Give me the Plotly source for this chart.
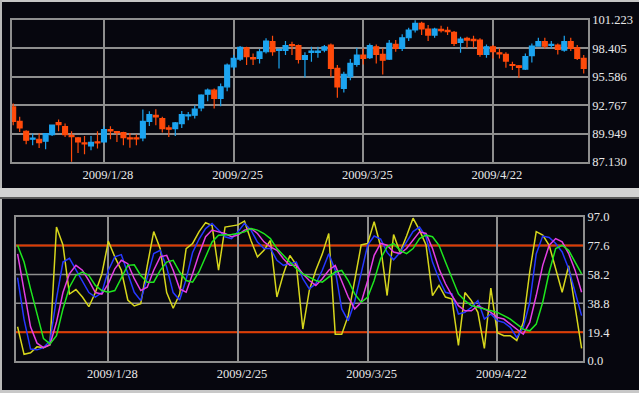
import plotly.graph_objects as go
import pandas as pd

# ---------------- data ----------------
dates = [f"{d.year}/{d.month}/{d.day}" for d in pd.bdate_range("2009-01-08", periods=89)]

opens = [92.60, 91.17, 90.18, 89.40, 89.39, 89.19, 89.85, 91.04, 90.64, 89.78,
         89.52, 89.02, 88.72, 89.12, 89.12, 90.35, 90.15, 90.05, 89.52, 89.52,
         89.52, 91.17, 91.77, 91.44, 90.51, 90.45, 90.94, 91.70, 91.77, 92.50,
         93.86, 94.26, 93.43, 94.59, 96.58, 97.34, 98.47, 97.48, 97.41, 98.07,
         99.07, 98.20, 98.20, 98.77, 98.67, 97.32, 98.00, 98.01, 98.24, 98.74,
         96.42, 94.43, 95.59, 96.81, 97.74, 97.48, 98.57, 97.81, 97.34, 98.80,
         98.40, 99.46, 100.23, 100.89, 100.33, 99.73, 100.30, 100.19, 99.99, 99.00,
         99.40, 99.30, 99.23, 97.81, 98.57, 97.97, 97.81, 96.80, 96.68, 96.35,
         97.68, 98.64, 99.07, 98.70, 98.74, 98.24, 99.07, 98.47, 97.41]
highs = [92.93, 91.61, 90.28, 89.95, 89.95, 89.95, 90.84, 91.34, 90.94, 90.18,
         89.62, 89.72, 89.72, 90.18, 90.68, 90.68, 90.18, 90.12, 90.02, 89.85,
         92.34, 92.17, 92.37, 91.61, 90.78, 91.11, 92.20, 92.10, 92.77, 93.86,
         94.42, 94.42, 94.92, 96.91, 97.74, 98.64, 98.57, 97.91, 98.34, 99.40,
         99.66, 98.40, 99.13, 99.07, 98.80, 98.01, 98.57, 98.57, 98.74, 98.90,
         96.75, 96.08, 97.34, 98.47, 98.40, 98.90, 98.80, 98.40, 99.23, 99.23,
         99.80, 100.46, 101.20, 101.06, 100.73, 100.46, 100.66, 100.56, 100.13, 99.56,
         99.56, 99.66, 99.40, 98.80, 98.74, 98.40, 98.01, 97.08, 96.75, 97.91,
         98.90, 99.46, 99.46, 99.13, 98.90, 99.66, 99.46, 98.74, 97.74]
lows = [90.78, 90.11, 88.89, 88.79, 88.52, 88.39, 89.72, 90.18, 89.62, 87.15,
        88.03, 87.89, 88.29, 88.46, 89.05, 89.39, 89.12, 88.79, 88.55, 88.79,
        89.19, 90.71, 90.78, 90.05, 89.62, 89.72, 90.51, 91.27, 91.44, 92.17,
        93.17, 92.44, 92.67, 94.16, 96.32, 97.15, 96.75, 96.75, 96.91, 97.91,
        97.67, 96.41, 97.74, 97.74, 96.91, 95.52, 97.08, 97.48, 98.01, 95.59,
        93.50, 94.03, 95.25, 96.58, 96.81, 97.35, 96.91, 95.82, 97.25, 98.07,
        98.14, 99.13, 99.99, 99.73, 99.13, 99.46, 99.99, 99.73, 98.64, 97.97,
        98.47, 98.47, 97.58, 97.48, 97.41, 97.41, 96.48, 96.25, 95.49, 96.25,
        97.01, 98.57, 98.40, 98.40, 97.81, 98.07, 98.14, 97.25, 95.92]
closes = [91.17, 90.51, 89.29, 89.50, 89.05, 89.95, 90.78, 90.84, 89.85, 89.65,
          89.12, 88.92, 89.09, 89.02, 90.35, 90.22, 90.05, 89.55, 89.42, 89.42,
          91.17, 91.84, 91.61, 90.45, 90.38, 91.01, 91.84, 91.80, 92.37, 93.76,
          94.26, 93.43, 94.59, 96.75, 97.41, 98.50, 97.58, 97.35, 98.07, 99.13,
          98.07, 98.30, 98.67, 98.67, 97.31, 97.68, 98.14, 98.14, 98.57, 96.42,
          94.59, 95.82, 96.91, 97.74, 97.41, 98.67, 97.81, 97.24, 98.90, 98.40,
          99.46, 100.23, 100.89, 100.33, 99.73, 100.33, 100.16, 100.06, 98.90, 99.33,
          99.23, 99.17, 97.81, 98.57, 98.07, 97.87, 97.15, 96.72, 96.52, 97.58,
          98.64, 99.07, 98.64, 98.80, 98.30, 99.07, 98.40, 97.41, 96.42]

# oscillator lines (first 88 sessions are drawn)
osc_yellow = [23, 4.5, 5.5, 9.5, 9, 11, 90, 78, 45, 48,
              43, 36.5, 46, 58.5, 80.5, 70, 61, 41, 37, 38.5,
              64, 87, 75.5, 46, 35.5, 45, 75.5, 79, 87, 93,
              91, 61, 90, 91, 91.5, 94, 81, 70, 74.5, 81,
              43, 58.5, 71, 64.5, 21.5, 47.5, 61, 72, 85.7, 18,
              18, 30.5, 53, 78, 79, 93.6, 77, 44, 85, 73,
              84, 96, 88, 78, 44, 50.8, 43, 41.7, 10.5, 46,
              40.6, 32.7, 8.5, 49, 19, 17, 17, 13.8, 26, 60,
              87, 84.6, 77.8, 62, 46.2, 64, 37.2, 8.5]
osc_blue = [56, 28, 8, 7.5, 9, 13.5, 42, 66.5, 69, 61,
            53, 46, 43, 46, 61, 70, 71.5, 58.6, 46.2, 40.6,
            56.4, 72.2, 74.4, 63, 46, 41, 55, 73, 82, 89,
            92.5, 88, 83.5, 82.3, 86.8, 92.5, 88, 80, 75.6, 75.6,
            67.7, 64.3, 65.4, 66.5, 55.3, 48.5, 51.9, 61, 72, 61,
            35, 27, 40, 60, 78, 84, 82, 73, 68, 73,
            80, 87, 90, 83.5, 66.5, 55.3, 46.2, 45.1, 31.6, 32.7,
            36.1, 40.6, 28.2, 31.6, 27.1, 25.9, 22.6, 15.8, 22.6, 39.5,
            72, 84, 83, 79, 73.3, 62, 46.2, 30.5]
osc_magenta = [72, 47, 23, 12, 9, 11, 26, 46, 58.6, 64.3,
               61, 54, 46, 45, 52, 62, 67.7, 65.4, 55.3, 47.4,
               49.6, 61, 70, 71, 61, 48.5, 46.2, 58.6, 72, 83.5,
               88, 86.8, 85.7, 83.5, 84.6, 88, 89.1, 85.7, 80.1, 76.7,
               74.4, 68.8, 64.3, 64.3, 58.6, 54.1, 50.8, 55.3, 61, 64.3,
               54, 43, 35, 39.5, 54, 71, 79, 77.8, 73.3, 72.2,
               75.6, 81.2, 86.8, 85.7, 75.6, 62, 51.9, 44, 37.2, 33.8,
               33.8, 37.2, 35, 32.7, 29.3, 28.2, 24.8, 21.4, 18, 25.9,
               44, 64.3, 77.8, 82.3, 80.1, 72.2, 60.9, 46.2]
osc_green = [77.8, 66.5, 48.5, 32.7, 15, 11.5, 17, 35, 49.6, 57.5,
             59.8, 57.5, 50.8, 47.4, 46.2, 47.4, 56.4, 64.3, 64.7, 57.5,
             53, 53, 60.9, 66.5, 67.7, 59.8, 54.1, 53, 60, 70,
             80, 84.6, 84.6, 85, 85.7, 86.8, 89, 88, 85.7, 82.3,
             75.6, 71, 66.5, 62, 58.6, 56.4, 54.1, 53, 56.4, 59.8,
             60.9, 54.1, 45.1, 39.5, 42.9, 54.1, 68.8, 76.7, 79, 74.4,
             72.2, 75.6, 82.3, 84.6, 83.5, 77.8, 66.5, 55.3, 45.1, 40.6,
             37.2, 36.1, 35, 33.8, 32.7, 30.5, 28.2, 24.8, 21.4, 20.3,
             24.8, 39.5, 59.8, 75.6, 77.8, 74.4, 66.5, 58.6]

price_ticks = [87.130, 89.949, 92.767, 95.586, 98.405, 101.223]
osc_ticks = [0.0, 19.4, 38.8, 58.2, 77.6, 97.0]
date_ticks = ["2009/1/28", "2009/2/25", "2009/3/25", "2009/4/22"]
upper_band, lower_band = 77.6, 19.4

# ---------------- styling ----------------
W, H = 639, 393
BG = "#06060e"
GRID = "#8e8e8e"
TXT = "#e8e8e8"
FONT = dict(family="Liberation Serif", size=12.5, color=TXT)
UP, DOWN = "#1ca4f0", "#ff4a0a"


def fx(px):
    return px / W


def fy(py):
    return 1 - py / H


fig = go.Figure()

fig.add_trace(go.Candlestick(
    x=dates, open=opens, high=highs, low=lows, close=closes,
    increasing=dict(line=dict(color=UP, width=1.2), fillcolor=UP),
    decreasing=dict(line=dict(color=DOWN, width=1.2), fillcolor=DOWN),
    whiskerwidth=0, xaxis="x", yaxis="y", showlegend=False,
))

n_osc = len(osc_yellow)
for vals, col in [(osc_yellow, "#d6d61c"), (osc_blue, "#2638ff"),
                  (osc_magenta, "#e43ee4"), (osc_green, "#1ee61e")]:
    fig.add_trace(go.Scatter(x=dates[:n_osc], y=vals, mode="lines",
                             line=dict(color=col, width=1.5),
                             xaxis="x2", yaxis="y2", showlegend=False))

axis_common = dict(showline=True, linecolor=GRID, linewidth=1.5, mirror=True,
                   zeroline=False, tickfont=FONT, ticks="", ticklen=0, automargin=False)

fig.update_layout(
    width=W, height=H, margin=dict(l=0, r=0, t=0, b=0, pad=0, autoexpand=False),
    paper_bgcolor=BG, plot_bgcolor=BG,
    boxgap=0.0, boxgroupgap=0.25,
    xaxis=dict(domain=[fx(12), fx(588)], type="category", range=[-0.185, 88.66],
               tickvals=date_ticks, ticktext=date_ticks, rangeslider=dict(visible=False),
               anchor="y", ticklabelshift=4, ticklabelstandoff=0,
               showgrid=True, gridcolor=GRID, gridwidth=1.5, **axis_common),
    yaxis=dict(domain=[fy(162), fy(20)], range=[price_ticks[0], price_ticks[-1]],
               tickvals=price_ticks, ticktext=[f"{v:.3f}" for v in price_ticks],
               side="right", anchor="x", ticklabelstandoff=0,
               showgrid=True, gridcolor=GRID, gridwidth=1.5, **axis_common),
    xaxis2=dict(domain=[fx(15.5), fx(583.3)], type="category", range=[-0.32, 87.26],
                tickvals=date_ticks, ticktext=date_ticks, anchor="y2",
                ticklabelshift=4, ticklabelstandoff=0,
                showgrid=True, gridcolor=GRID, gridwidth=1.5, **axis_common),
    yaxis2=dict(domain=[fy(361), fy(216.7)], range=[osc_ticks[0], osc_ticks[-1]],
                tickvals=osc_ticks, ticktext=[f"{v:.1f}" for v in osc_ticks],
                side="right", anchor="x2", ticklabelstandoff=0,
                showgrid=False, **axis_common),
)

shapes = []
# oscillator horizontal grid, then the red band lines on top of it
for lvl in osc_ticks[1:-1]:
    shapes.append(dict(type="line", xref="x2 domain", yref="y2", x0=0, x1=1, y0=lvl, y1=lvl,
                       line=dict(color=GRID, width=1.5), layer="below"))
for lvl in (upper_band, lower_band):
    shapes.append(dict(type="line", xref="x2 domain", yref="y2", x0=0, x1=1, y0=lvl, y1=lvl,
                       line=dict(color="#e03a00", width=2), layer="below"))
# window frame pieces
frame = [
    (0, 1, fy(2), 1, "#c4c4c4"),
    (0, fx(2), 0, 1, "#b8b8b8"),
    (0, 1, fy(197), fy(188), "#d2d2d2"),
    (0, 1, fy(199), fy(197), "#5a5a5a"),
    (0, 1, 0, fy(390), "#c8c8c8"),
]
for x0, x1, y0, y1, c in frame:
    shapes.append(dict(type="rect", xref="paper", yref="paper", x0=x0, x1=x1, y0=y0, y1=y1,
                       fillcolor=c, line=dict(width=0), layer="above"))
fig.update_layout(shapes=shapes)

fig.write_html("out.html", config={"displayModeBar": False},
               post_script="document.body.style.margin='0';document.body.style.padding='0';")
